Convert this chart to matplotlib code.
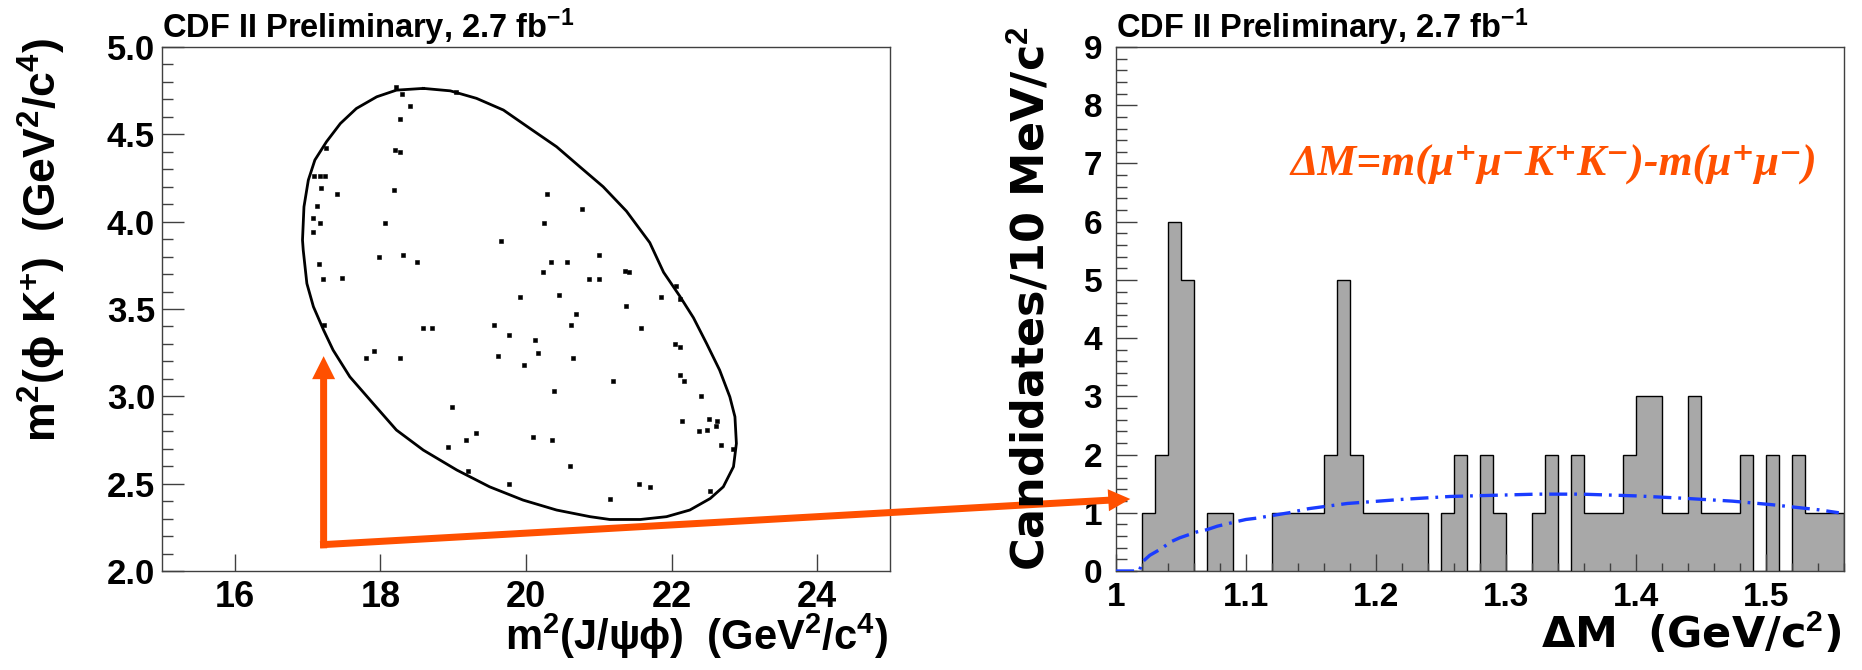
import numpy as np
import matplotlib
matplotlib.use("Agg")
import matplotlib.pyplot as plt
from matplotlib.patches import FancyArrow
from matplotlib.ticker import FixedLocator, MultipleLocator, NullLocator

# ---------------- data ----------------
title_text = "CDF II Preliminary, 2.7 fb$^{-1}$"
formula_text = "ΔM=m(μ⁺μ⁻K⁺K⁻)-m(μ⁺μ⁻)"

left_xlabel = "m$^{2}$(J/ψϕ)  (GeV$^{2}$/c$^{4}$)"
left_ylabel = "m$^{2}$(ϕ K$^{+}$)  (GeV$^{2}$/c$^{4}$)"
right_xlabel = "ΔM  (GeV/c$^{2}$)"
right_ylabel = "Candidates/10 MeV/c$^{2}$"

# Dalitz-plot candidates: m^2(J/psi phi), m^2(phi K+)
dalitz_x = [18.21, 18.29, 18.41, 18.27, 19.04, 17.25, 18.20, 18.27, 17.09, 17.17,
            17.24, 17.18, 17.41, 18.19, 20.29, 20.77, 17.13, 17.08, 17.17, 18.07,
            20.25, 17.08, 19.66, 17.15, 17.98, 18.31, 18.50, 17.21, 17.47, 21.00,
            20.34, 20.56, 20.23, 21.36, 21.41, 21.00, 20.87, 19.92, 20.46, 21.85,
            22.11, 22.06, 21.37, 20.69, 20.62, 19.56, 19.77, 20.12, 20.16, 19.62,
            20.64, 19.97, 18.58, 18.71, 17.91, 17.80, 18.27, 21.58, 22.04, 22.11,
            22.12, 22.17, 21.19, 20.38, 22.40, 18.99, 22.14, 22.51, 22.63, 22.37,
            22.48, 22.61, 22.68, 22.85, 19.31, 19.17, 18.93, 20.10, 20.36, 20.60,
            19.20, 19.77, 21.55, 21.70, 21.16, 22.53, 17.22]
dalitz_y = [4.77, 4.73, 4.66, 4.59, 4.74, 4.42, 4.41, 4.40, 4.26, 4.26,
            4.26, 4.19, 4.16, 4.18, 4.16, 4.07, 4.09, 4.02, 3.99, 3.99,
            3.99, 3.94, 3.89, 3.76, 3.80, 3.81, 3.77, 3.67, 3.68, 3.81,
            3.77, 3.77, 3.71, 3.72, 3.71, 3.67, 3.67, 3.57, 3.58, 3.57,
            3.56, 3.63, 3.52, 3.47, 3.41, 3.41, 3.35, 3.32, 3.25, 3.23,
            3.22, 3.18, 3.39, 3.39, 3.26, 3.22, 3.22, 3.39, 3.30, 3.28,
            3.12, 3.09, 3.09, 3.03, 3.00, 2.94, 2.86, 2.87, 2.86, 2.80,
            2.81, 2.83, 2.72, 2.70, 2.79, 2.75, 2.71, 2.77, 2.75, 2.60,
            2.57, 2.50, 2.50, 2.48, 2.41, 2.46, 3.41]

# kinematic boundary (closed loop)
boundary_x = [18.59, 18.96, 19.32, 19.69, 20.05, 20.42, 20.74, 21.06, 21.38, 21.70,
              21.89, 22.11, 22.30, 22.48, 22.66, 22.80, 22.87, 22.89, 22.85, 22.71,
              22.53, 22.25, 21.93, 21.57, 21.15, 20.88, 20.42, 19.96, 19.50, 19.05,
              18.59, 18.22, 17.90, 17.58, 17.35, 17.22, 17.08, 16.99, 16.94, 16.93,
              16.95, 17.01, 17.10, 17.26, 17.45, 17.67, 17.95, 18.22, 18.59]
boundary_y = [4.763, 4.749, 4.706, 4.639, 4.535, 4.429, 4.314, 4.200, 4.060, 3.880,
              3.710, 3.575, 3.450, 3.303, 3.150, 2.997, 2.883, 2.730, 2.597, 2.482,
              2.415, 2.349, 2.311, 2.295, 2.295, 2.311, 2.349, 2.406, 2.482, 2.578,
              2.692, 2.807, 2.959, 3.112, 3.265, 3.379, 3.513, 3.646, 3.837, 3.895,
              4.085, 4.238, 4.353, 4.458, 4.562, 4.648, 4.715, 4.753, 4.763]

# Delta M histogram, 10 MeV bins from 1.00 to 1.56 GeV
hist_lo, hist_hi = 1.00, 1.56
hist_counts = [0, 0, 1, 2, 6, 5, 0, 1, 1, 0,
               0, 0, 1, 1, 1, 1, 2, 5, 2, 1,
               1, 1, 1, 1, 0, 1, 2, 0, 2, 1,
               0, 0, 1, 2, 0, 2, 1, 1, 1, 2,
               3, 3, 1, 1, 3, 1, 1, 1, 2, 0,
               2, 0, 2, 1, 1, 1]

# background shape (blue dash-dot)
fit_x = [1.000, 1.018, 1.020, 1.026, 1.035, 1.042, 1.049, 1.062, 1.070, 1.078,
         1.092, 1.100, 1.109, 1.122, 1.133, 1.148, 1.178, 1.220, 1.257, 1.290,
         1.324, 1.358, 1.400, 1.436, 1.474, 1.504, 1.541, 1.556]
fit_y = [0.0, 0.0, 0.15, 0.27, 0.385, 0.50, 0.57, 0.67, 0.71, 0.77,
         0.845, 0.885, 0.91, 0.96, 1.00, 1.07, 1.16, 1.23, 1.28, 1.30,
         1.32, 1.32, 1.29, 1.25, 1.20, 1.14, 1.05, 1.00]

left_xticks = [16, 18, 20, 22, 24]
left_xticklabels = ["16", "18", "20", "22", "24"]
left_yticks = [2.0, 2.5, 3.0, 3.5, 4.0, 4.5, 5.0]
left_yticklabels = ["2.0", "2.5", "3.0", "3.5", "4.0", "4.5", "5.0"]
right_xticks = [1.0, 1.1, 1.2, 1.3, 1.4, 1.5]
right_xticklabels = ["1", "1.1", "1.2", "1.3", "1.4", "1.5"]
right_yticks = [0, 1, 2, 3, 4, 5, 6, 7, 8, 9]
right_yticklabels = ["0", "1", "2", "3", "4", "5", "6", "7", "8", "9"]

# arrow anchor points (data coordinates)
arrow_corner_left = (17.22, 2.15)
arrow_up_tip_left = (17.22, 3.23)
arrow_tip_right = (1.011, 1.237)

# ---------------- style ----------------
plt.rcParams["font.family"] = ["Liberation Sans", "DejaVu Sans"]
plt.rcParams["font.weight"] = "bold"
plt.rcParams["mathtext.fontset"] = "custom"
plt.rcParams["mathtext.rm"] = "Liberation Sans:bold"
plt.rcParams["mathtext.bf"] = "Liberation Sans:bold"
plt.rcParams["mathtext.it"] = "Liberation Sans:bold:italic"
plt.rcParams["mathtext.default"] = "rm"
plt.rcParams["lines.scale_dashes"] = False

W, H = 1862, 670
fig = plt.figure(figsize=(W / 100, H / 100), dpi=100)
fig.patch.set_facecolor("white")

def frac(px, py):
    return px / W, 1 - py / H

axL = fig.add_axes([162 / W, 1 - 571 / H, 728 / W, 524 / H])
axR = fig.add_axes([1116 / W, 1 - 571 / H, 728 / W, 524 / H])

spine_col = "#404040"
for ax in (axL, axR):
    for s in ax.spines.values():
        s.set_linewidth(1.0)
        s.set_color(spine_col)
    ax.tick_params(which="both", direction="in", top=False, right=False,
                   color=spine_col, width=1.0)

# ---- left: Dalitz plot ----
axL.plot(boundary_x, boundary_y, color="black", lw=2.0, zorder=2,
         solid_joinstyle="round")
axL.plot(dalitz_x, dalitz_y, ls="none", marker="s", ms=2.4, color="black",
         mec="black", mew=0.4, zorder=3)
axL.set_xlim(15, 25)
axL.set_ylim(2.0, 5.0)
axL.xaxis.set_major_locator(FixedLocator(left_xticks))
axL.set_xticklabels(left_xticklabels)
axL.xaxis.set_minor_locator(NullLocator())
axL.yaxis.set_major_locator(FixedLocator(left_yticks))
axL.set_yticklabels(left_yticklabels)
axL.yaxis.set_minor_locator(MultipleLocator(0.1))
axL.tick_params(axis="x", which="major", length=12.2, pad=6.5, labelsize=26)
axL.tick_params(axis="y", which="major", length=15.8, pad=5, labelsize=25)
axL.tick_params(axis="y", which="minor", length=7.9)

# ---- right: histogram ----
edges = np.linspace(hist_lo, hist_hi, len(hist_counts) + 1)
axR.stairs(hist_counts, edges, fill=True, color="#a8a8a8", zorder=1)
axR.stairs(hist_counts, edges, color="black", lw=1.0, zorder=1.5)
axR.plot(fit_x, fit_y, color="#1a3cff", lw=2.4, dashes=(13, 5, 2, 5), zorder=3)
axR.set_xlim(hist_lo, hist_hi)
axR.set_ylim(0, 9)
axR.xaxis.set_major_locator(FixedLocator(right_xticks))
axR.set_xticklabels(right_xticklabels)
axR.xaxis.set_minor_locator(MultipleLocator(0.02))
axR.yaxis.set_major_locator(FixedLocator(right_yticks))
axR.set_yticklabels(right_yticklabels)
axR.yaxis.set_minor_locator(MultipleLocator(0.2))
axR.tick_params(axis="x", which="major", length=12.2, pad=8, labelsize=24)
axR.tick_params(axis="x", which="minor", length=5.8)
axR.tick_params(axis="y", which="major", length=15, pad=10, labelsize=24)
axR.tick_params(axis="y", which="minor", length=7.9)

# ---- texts ----
fig.text(*frac(162, 38), title_text, ha="left", va="baseline", fontsize=23.5)
fig.text(*frac(1116, 38), title_text, ha="left", va="baseline", fontsize=23.5)
fig.text(*frac(888, 612), left_xlabel, ha="right", va="top", fontsize=30)
fig.text(*frac(1842, 612), right_xlabel, ha="right", va="top", fontsize=31,
         family=["DejaVu Sans"])
fig.text(*frac(42, 38), left_ylabel, ha="center", va="top", rotation=90, fontsize=32)
fig.text(*frac(1031, 26), right_ylabel, ha="center", va="top", rotation=90, fontsize=32,
         family=["DejaVu Sans"])
fig.text(*frac(1554, 165), formula_text, ha="center", va="center",
         color="#ff5000", fontsize=31.5, fontstyle="italic", fontweight="bold",
         family=["Liberation Serif", "DejaVu Serif"])

# ---- orange arrows (annotation) ----
orange = "#ff5000"
def to_in(ax, xy):
    px, py = ax.transData.transform(xy)
    return px / fig.dpi, py / fig.dpi

cx, cy = to_in(axL, arrow_corner_left)
ux, uy = to_in(axL, arrow_up_tip_left)
rx, ry = to_in(axR, arrow_tip_right)
half = 0.035
fig.add_artist(FancyArrow(cx, cy - half, 0, uy - (cy - half), width=0.07,
                          head_width=0.23, head_length=0.23, length_includes_head=True,
                          color=orange, lw=0, transform=fig.dpi_scale_trans))
fig.add_artist(FancyArrow(cx - half, cy, rx - (cx - half), ry - cy, width=0.07,
                          head_width=0.22, head_length=0.22, length_includes_head=True,
                          color=orange, lw=0, transform=fig.dpi_scale_trans))

fig.savefig("out.png", dpi=100, facecolor="white")
